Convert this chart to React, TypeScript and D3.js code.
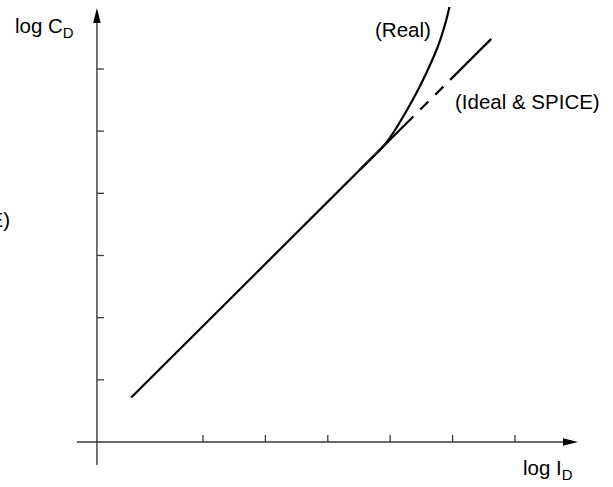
import React, { useRef, useEffect } from 'react';
import * as d3 from 'd3';

// log I_D tick positions (x) and log C_D tick positions (y), in decades
const xTicks = [1, 2, 3, 4, 5, 6];
const yTicks = [1, 2, 3, 4, 5, 6];

// Ideal & SPICE straight line: solid part, dashed part, solid part
const idealSolidA_I = [-0.15, 4.37];
const idealSolidA_C = [0.715, 5.235];
const idealDash_I = [4.37, 4.96];
const idealDash_C = [5.235, 5.825];
const idealSolidB_I = [4.96, 5.62];
const idealSolidB_C = [5.825, 6.485];

// Real curve bending up away from the ideal line
const realLogI = [3.516, 3.724, 3.901, 4.077, 4.269, 4.478, 4.67, 4.798, 4.894, 4.95];
const realLogC = [4.381, 4.587, 4.769, 5.019, 5.34, 5.726, 6.136, 6.458, 6.772, 6.997];

const width = 613;
const height = 487;

const App: React.FC = () => {
  const svgRef = useRef<SVGSVGElement>(null);

  useEffect(() => {
    if (!svgRef.current) return;
    const svg = d3.select(svgRef.current);
    svg.selectAll('*').remove();

    const x = d3.scaleLinear().domain([1, 6]).range([203, 515]);
    const y = d3.scaleLinear().domain([0, 6]).range([442, 69]);

    const axisX0 = x(-0.7); // vertical axis position
    const axisY0 = y(0);
    const axisColor = '#3a3a3a';

    // vertical axis with arrow
    svg.append('line')
      .attr('x1', axisX0).attr('x2', axisX0)
      .attr('y1', 465).attr('y2', 20)
      .attr('stroke', axisColor).attr('stroke-width', 1.4);
    svg.append('path')
      .attr('d', `M${axisX0},8 L${axisX0 - 3.8},23 L${axisX0 + 3.8},23 Z`)
      .attr('fill', '#000');

    // horizontal axis with arrow
    svg.append('line')
      .attr('x1', 77).attr('x2', 566)
      .attr('y1', axisY0).attr('y2', axisY0)
      .attr('stroke', axisColor).attr('stroke-width', 1.4);
    svg.append('path')
      .attr('d', `M578,${axisY0} L563,${axisY0 - 3.8} L563,${axisY0 + 3.8} Z`)
      .attr('fill', '#000');

    // ticks
    svg.selectAll('.xt')
      .data(xTicks)
      .enter()
      .append('line')
      .attr('x1', d => x(d)).attr('x2', d => x(d))
      .attr('y1', axisY0 - 7).attr('y2', axisY0)
      .attr('stroke', axisColor).attr('stroke-width', 1.3);

    svg.selectAll('.yt')
      .data(yTicks)
      .enter()
      .append('line')
      .attr('x1', axisX0).attr('x2', axisX0 + 7)
      .attr('y1', d => y(d)).attr('y2', d => y(d))
      .attr('stroke', axisColor).attr('stroke-width', 1.3);

    const line = d3.line<[number, number]>()
      .x(d => x(d[0]))
      .y(d => y(d[1]));

    const zip = (a: number[], b: number[]) => a.map((v, i) => [v, b[i]] as [number, number]);

    // ideal line
    svg.append('path')
      .attr('d', line(zip(idealSolidA_I, idealSolidA_C)))
      .attr('fill', 'none').attr('stroke', '#000').attr('stroke-width', 2.2);
    svg.append('path')
      .attr('d', line(zip(idealDash_I, idealDash_C)))
      .attr('fill', 'none').attr('stroke', '#000').attr('stroke-width', 2.2)
      .attr('stroke-dasharray', '11.3 9.9')
      .attr('stroke-dashoffset', 11.3);
    svg.append('path')
      .attr('d', line(zip(idealSolidB_I, idealSolidB_C)))
      .attr('fill', 'none').attr('stroke', '#000').attr('stroke-width', 2.2);

    // real curve
    const curveLine = d3.line<[number, number]>()
      .x(d => x(d[0]))
      .y(d => y(d[1]))
      .curve(d3.curveCatmullRom.alpha(0.5));
    svg.append('path')
      .attr('d', curveLine(zip(realLogI, realLogC)))
      .attr('fill', 'none').attr('stroke', '#000').attr('stroke-width', 2.2);

    const font = '"Liberation Sans", Arial, Helvetica, sans-serif';

    // labels
    const addLabel = (tx: number, ty: number, main: string, sub?: string, anchor = 'start') => {
      const t = svg.append('text')
        .attr('x', tx).attr('y', ty)
        .attr('text-anchor', anchor)
        .style('font-family', font)
        .style('font-size', '20.5px')
        .attr('fill', '#000')
        .text(main);
      if (sub) {
        t.append('tspan')
          .attr('dy', 5)
          .style('font-size', '15px')
          .text(sub);
      }
    };

    addLabel(15, 33, 'log C', 'D');
    addLabel(523, 475, 'log I', 'D');
    addLabel(375, 37, '(Real)');
    addLabel(455, 109, '(Ideal & SPICE)');
    addLabel(10, 227, '(SPICE)', undefined, 'end');
  }, []);

  return (
    <svg
      ref={svgRef}
      width={width}
      height={height}
      style={{ position: 'absolute', left: 0, top: 0, background: '#fff' }}
    />
  );
};

export default App;
